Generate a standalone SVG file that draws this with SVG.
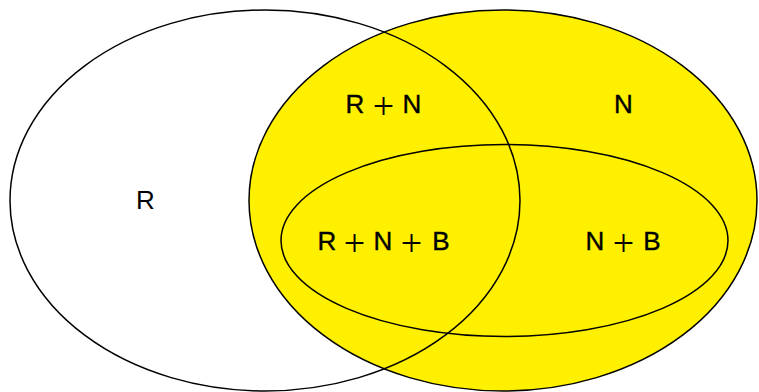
<svg xmlns="http://www.w3.org/2000/svg" width="759" height="392" viewBox="0 0 759 392">
<style>
.e{stroke:#000;stroke-width:1.5;fill:none}
.t{font-family:"Liberation Sans",Arial,sans-serif;font-size:26px;fill:#000;stroke:#000;stroke-width:0.4;text-anchor:middle}
.p{font-family:"Liberation Serif","Times New Roman",serif;font-size:38px;fill:#000;text-anchor:middle}
</style>
<rect width="759" height="392" fill="#fff"/>
<g id="N"><ellipse cx="503" cy="200.5" rx="254" ry="190.5" fill="#fff000" stroke="#000" stroke-width="1.5"/></g>
<g id="R"><ellipse class="e" cx="265" cy="200.5" rx="255" ry="190.5"/></g>
<g id="B"><ellipse class="e" cx="504.5" cy="240.5" rx="223.5" ry="96"/></g>
<g id="labels">
<text class="t" x="145.5" y="209" style="stroke:none">R</text>
<text class="t" y="113"><tspan x="355">R</tspan><tspan x="412">N</tspan></text>
<text class="p" y="119" x="383.5">+</text>
<text class="t" x="623.5" y="113">N</text>
<text class="t" y="250"><tspan x="327">R</tspan><tspan x="383">N</tspan><tspan x="441">B</tspan></text>
<text class="p" y="256"><tspan x="354.5">+</tspan><tspan x="411.5">+</tspan></text>
<text class="t" y="250"><tspan x="595">N</tspan><tspan x="652">B</tspan></text>
<text class="p" y="256" x="623.5">+</text>
</g>
</svg>
